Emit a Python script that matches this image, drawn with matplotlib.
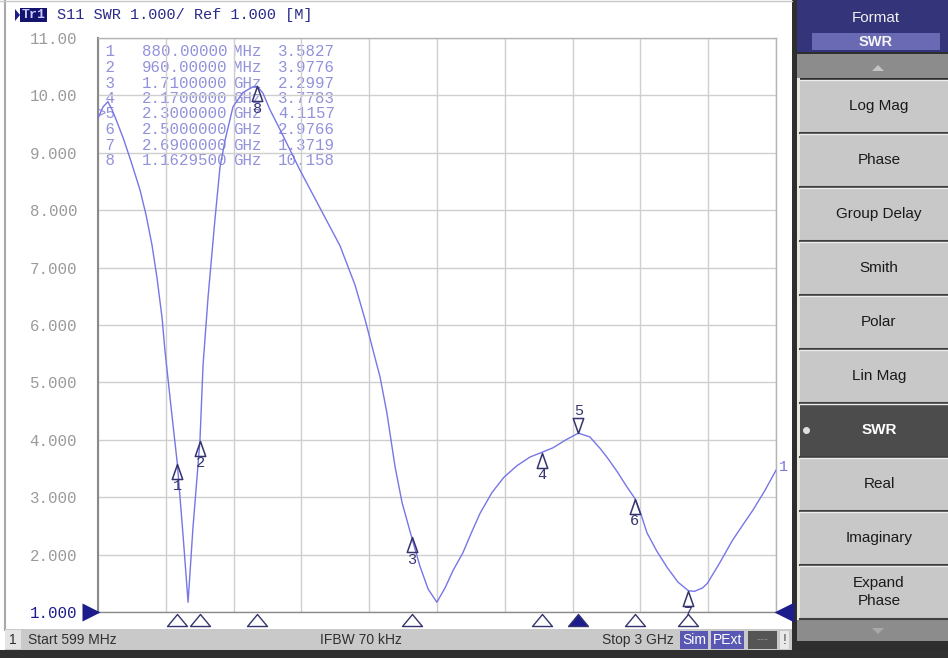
import matplotlib
matplotlib.use("Agg")
import matplotlib.pyplot as plt
from matplotlib.patches import Rectangle, Polygon
from matplotlib.path import Path
from matplotlib.transforms import blended_transform_factory

# ---- sweep / scale settings ----
f_start_mhz = 599.0
f_stop_mhz = 3000.0
swr_bottom = 1.0
swr_top = 11.0
n_hdiv = 10

# ---- S11 SWR trace (MHz, SWR) ----
freq_mhz = [599, 617, 634, 649, 666, 688, 716, 748, 769, 790, 808, 826, 836,
            857, 880, 900, 918, 935, 960, 971, 989, 1013, 1031, 1049, 1077,
            1112, 1148, 1162.95, 1183, 1208, 1244, 1279, 1314, 1385, 1456,
            1509, 1545, 1573, 1598, 1622, 1651, 1676, 1710, 1739, 1768, 1799,
            1828, 1856, 1891, 1923, 1952, 1994, 2037, 2083, 2129, 2170, 2210,
            2256, 2300, 2341, 2377, 2401, 2437, 2472, 2500, 2522, 2543, 2578,
            2614, 2653, 2690, 2711, 2740, 2757, 2800, 2846, 2883, 2919, 2961,
            3000]
swr = [9.60, 9.80, 9.89, 9.75, 9.54, 9.26, 8.85, 8.35, 7.92, 7.40, 6.82, 6.12,
       5.56, 4.60, 3.58, 2.35, 1.17, 2.45, 3.98, 5.30, 6.50, 7.83, 8.75, 9.22,
       9.80, 10.05, 10.15, 10.158, 10.04, 9.75, 9.40, 9.05, 8.70, 8.04, 7.38,
       6.70, 6.09, 5.56, 5.09, 4.47, 3.53, 2.90, 2.30, 1.80, 1.40, 1.17,
       1.42, 1.72, 2.03, 2.40, 2.72, 3.08, 3.35, 3.55, 3.70, 3.78, 3.86,
       4.00, 4.1157, 4.05, 3.85, 3.70, 3.45, 3.18, 2.98, 2.70, 2.38, 2.06,
       1.78, 1.52, 1.37, 1.36, 1.42, 1.50, 1.85, 2.25, 2.52, 2.78, 3.12,
       3.47]

# ---- markers ----
marker_ids = ["1", "2", "3", "4", "5", "6", "7", "8"]
marker_freq_mhz = [880.0, 960.0, 1710.0, 2170.0, 2300.0, 2500.0, 2690.0, 1162.95]
marker_swr = [3.5827, 3.9776, 2.2997, 3.7783, 4.1157, 2.9766, 1.3719, 10.158]
active_marker = "5"

# ---- axis labels ----
y_tick_values = [11, 10, 9, 8, 7, 6, 5, 4, 3, 2, 1]
y_tick_labels = ["11.00", "10.00", "9.000", "8.000", "7.000", "6.000",
                 "5.000", "4.000", "3.000", "2.000", "1.000"]

# ---- softkey menu ----
menu_title = "Format"
menu_value = "SWR"
softkeys = ["Log Mag", "Phase", "Group Delay", "Smith", "Polar", "Lin Mag",
            "SWR", "Real", "Imaginary", "Expand\nPhase"]

# ---- colours / fonts ----
TRACE = "#7676e6"
NAVY = "#1c1c8c"
MARK = "#34346e"
TABLE = "#9292dc"
GRID = "#cfcfcf"
MONO = "Liberation Mono"
SANS = "Liberation Sans"

W, H = 948, 658
fig = plt.figure(figsize=(W / 100, H / 100), dpi=100)
fig.patch.set_facecolor("white")

# background layer in pixel units (origin top-left)
bg = fig.add_axes([0, 0, 1, 1], zorder=0)
bg.set_xlim(0, W)
bg.set_ylim(H, 0)
bg.axis("off")


def rect(x0, y0, x1, y1, fc, ec="none", lw=0, z=1):
    bg.add_patch(Rectangle((x0, y0), x1 - x0, y1 - y0, facecolor=fc,
                           edgecolor=ec, linewidth=lw, zorder=z))


# window frame of the trace panel
rect(0, 0, 792, 630, "white")
bg.plot([5, 5], [0, 630], color="#a8a8a8", lw=1.5, zorder=2)
bg.plot([0, 792], [1, 1], color="#c8c8c8", lw=1.0, zorder=2)

# title line
bg.add_patch(Polygon([(15, 9), (15, 21), (20, 15)], closed=True,
                     facecolor=NAVY, edgecolor="none", zorder=3))
rect(20, 8, 47, 22, "#14146e", z=3)
bg.text(33.5, 15.5, "Tr1", color="#c8c8ff", fontsize=9.5, family=MONO,
        ha="center", va="center", zorder=4, fontweight="bold")
bg.text(57, 15.5, "S11 SWR 1.000/ Ref 1.000 [M]", color="#2a2a88",
        fontsize=11, family=MONO, ha="left", va="center", zorder=4)

# status bar
rect(5, 629, 792, 650, "#c9c9c9", z=2)
rect(5, 630, 21, 649, "#e4e4e4", z=3)
bg.text(13, 640, "1", fontsize=10, family=SANS, color="#303030",
        ha="center", va="center", zorder=4)
bg.text(28, 640, "Start 599 MHz", fontsize=10, family=SANS, color="#303030",
        ha="left", va="center", zorder=4)
bg.text(320, 640, "IFBW 70 kHz", fontsize=10, family=SANS, color="#303030",
        ha="left", va="center", zorder=4)
bg.text(674, 640, "Stop 3 GHz", fontsize=10, family=SANS, color="#303030",
        ha="right", va="center", zorder=4)
rect(680, 631, 708, 649, "#5858b4", z=3)
bg.text(694, 640, "Sim", fontsize=10, family=SANS, color="white",
        ha="center", va="center", zorder=4)
rect(711, 631, 744, 649, "#5858b4", z=3)
bg.text(727.5, 640, "PExt", fontsize=10, family=SANS, color="white",
        ha="center", va="center", zorder=4)
rect(748, 631, 777, 649, "#555555", z=3)
bg.text(762.5, 640, "---", fontsize=9, family=SANS, color="#8a8a8a",
        ha="center", va="center", zorder=4)
rect(780, 631, 789, 649, "#e8e8e8", z=3)
bg.text(784.5, 640, "!", fontsize=10, family=SANS, color="#505050",
        ha="center", va="center", zorder=4)
rect(0, 650, W, H, "#303030", z=2)

# softkey panel
rect(792, 0, W, H, "#2e2e2e", z=1)
rect(797, 0, W, 52, "#34347a", z=2)
bg.text(876, 18, menu_title, fontsize=11, family=SANS, color="#f0f0f0",
        ha="center", va="center", zorder=3)
rect(812, 33, 940, 50, "#6a6ab4", z=3)
bg.text(876, 41.5, menu_value, fontsize=10.5, family=SANS, color="#f4f4f4",
        ha="center", va="center", zorder=4, fontweight="bold")
rect(797, 54, W, 78, "#8c8c8c", z=2)
bg.add_patch(Polygon([(872, 71), (884, 71), (878, 65)], closed=True,
                     facecolor="#c4c4c4", edgecolor="none", zorder=3))
rect(797, 78, 800, 620, "#e8e8e0", z=2)

key_top = 80
key_h = 54
for i, label in enumerate(softkeys):
    y0 = key_top + i * key_h
    y1 = y0 + key_h - 2
    selected = label == menu_value
    fc = "#4c4c4c" if selected else "#c8c8c8"
    rect(800, y0, W, y1, fc, z=2)
    bg.plot([800, W], [y1 + 1, y1 + 1], color="#404040", lw=1.5, zorder=3)
    bg.plot([800, W], [y0, y0], color="#ececec", lw=1.0, zorder=3)
    bg.text(879, (y0 + y1) / 2, label, fontsize=11, family=SANS,
            color="white" if selected else "#1a1a1a", ha="center",
            va="center", zorder=4, linespacing=1.45,
            fontweight="bold" if selected else "normal")
    if selected:
        bg.plot([806], [(y0 + y1) / 2], marker="o", ms=4, color="#e0e0e0",
                zorder=4)
rect(797, 620, W, 641, "#8c8c8c", z=2)
bg.add_patch(Polygon([(872, 628), (884, 628), (878, 634)], closed=True,
                     facecolor="#a8a8a8", edgecolor="none", zorder=3))

# ---- measurement grid ----
ax = fig.add_axes([98 / W, (H - 612) / H, 678 / W, 574 / H], zorder=5)
ax.set_facecolor("none")
ax.set_xlim(f_start_mhz, f_stop_mhz)
ax.set_ylim(swr_bottom, swr_top)
step = (f_stop_mhz - f_start_mhz) / n_hdiv
ax.set_xticks([f_start_mhz + k * step for k in range(n_hdiv + 1)])
ax.set_xticklabels([])
ax.set_yticks(y_tick_values)
ax.set_yticklabels(y_tick_labels, family=MONO, fontsize=11.3)
for lbl in ax.get_yticklabels():
    lbl.set_color(NAVY if lbl.get_text() == "1.000" else "#9a9a9a")
ax.tick_params(length=0, pad=15)
ax.grid(True, color=GRID, lw=1.0)
for side, spine in ax.spines.items():
    spine.set_color("#b4b4b4")
    spine.set_linewidth(1.0)
ax.spines["left"].set_color("#8a8a8a")
ax.spines["left"].set_linewidth(1.5)
ax.spines["bottom"].set_color("#8a8a8a")

# trace
ax.plot(freq_mhz, swr, color=TRACE, lw=1.0, zorder=3)
ax.text(1.004, (swr[-1] - swr_bottom) / (swr_top - swr_bottom) + 0.006, "1",
        transform=ax.transAxes, color=TRACE, fontsize=11, family=MONO,
        ha="left", va="center", clip_on=False)

# marker symbols with apex on the point
codes = [Path.MOVETO, Path.LINETO, Path.LINETO, Path.CLOSEPOLY]
tri_below = Path([(0, 0), (-0.35, -1), (0.35, -1), (0, 0)], codes)
tri_above = Path([(0, 0), (-0.35, 1), (0.35, 1), (0, 0)], codes)
stim_tri = Path([(0, 0), (-0.83, -1), (0.83, -1), (0, 0)], codes)

stim_tf = blended_transform_factory(ax.transData, ax.transAxes)
for mid, mf, ms_ in zip(marker_ids, marker_freq_mhz, marker_swr):
    is_active = mid == active_marker
    ax.plot([mf], [ms_], marker=tri_above if is_active else tri_below,
            ms=21.6, mfc="none", mec=MARK, mew=1.1, zorder=4, clip_on=False)
    ax.annotate(mid, (mf, ms_), xytext=(0, 16 if is_active else -16),
                textcoords="offset points", ha="center", va="center",
                color=MARK, fontsize=11, family=MONO, zorder=5,
                annotation_clip=False)
    ax.plot([mf], [-0.003], transform=stim_tf, marker=stim_tri, ms=17.3,
            mfc=NAVY if is_active else "white", mec=MARK, mew=1.0,
            clip_on=False, zorder=6)

# reference level arrows
ref_tf = blended_transform_factory(ax.transAxes, ax.transData)
ax.plot([-0.0105], [swr_bottom], transform=ref_tf, marker=">", ms=13,
        color=NAVY, mec="none", clip_on=False, zorder=6)
ax.plot([1.0115], [swr_bottom], transform=ref_tf, marker="<", ms=14,
        color=NAVY, mec="none", clip_on=False, zorder=6)

# marker table
row_y0 = 52
row_dy = 15.5
for i, (mid, mf, ms_) in enumerate(zip(marker_ids, marker_freq_mhz, marker_swr)):
    y = row_y0 + i * row_dy
    if mf < 1000:
        ftxt, unit = f"{mf:.5f}", "MHz"
    else:
        ftxt, unit = f"{mf / 1000:.7f}", "GHz"
    tag = (">" if mid == active_marker else " ") + mid
    bg.text(115, y, tag, fontsize=11.3, family=MONO, color=TABLE,
            ha="right", va="center", zorder=7)
    bg.text(142, y, ftxt, fontsize=11.3, family=MONO, color=TABLE,
            ha="left", va="center", zorder=7)
    bg.text(233, y, unit, fontsize=11.3, family=MONO, color=TABLE,
            ha="left", va="center", zorder=7)
    bg.text(278, y, f"{ms_:.5g}", fontsize=11.3, family=MONO, color=TABLE,
            ha="left", va="center", zorder=7)

fig.savefig("out.png", dpi=100, facecolor=fig.get_facecolor())
